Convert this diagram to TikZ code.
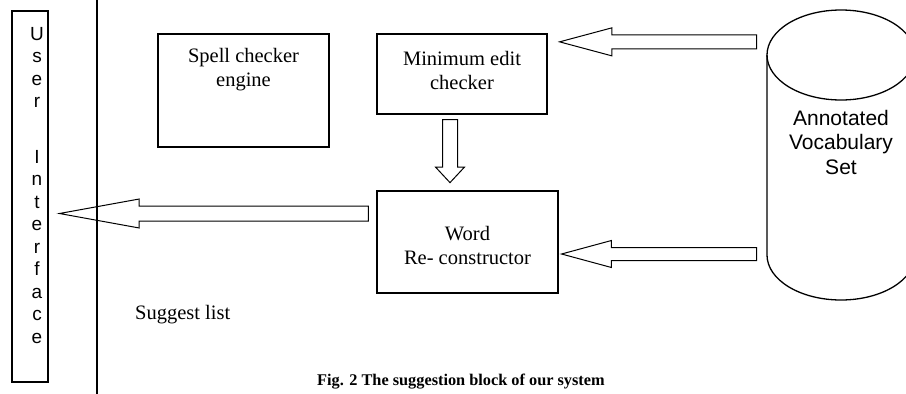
\documentclass[tikz,border=0pt]{standalone}
\usepackage{fontspec}
\setmainfont{Liberation Serif}
\newfontfamily\arialfont{Liberation Sans}
\usetikzlibrary{shapes.arrows,calc}

\begin{document}
\begin{tikzpicture}[x=1pt,y=-1pt,
  block/.style={draw, line width=1.3pt, inner sep=0pt},
  serif/.style={align=center, inner sep=0pt, font=\fontsize{20.5}{24}\selectfont},
  sans/.style={align=center, inner sep=0pt, font=\arialfont\fontsize{21}{24.5}\selectfont},
  fat/.style={draw, line width=1pt, single arrow, inner sep=7pt,
    single arrow head indent=0pt, single arrow head extend=7pt, anchor=tip}]
\useasboundingbox (0,0) rectangle (906,394);
\clip (0,0) rectangle (906,394);

% user interface column and its separator
\node[block, minimum width=36pt, minimum height=371pt] (ui) at (30,196.5) {};
\node[inner sep=0pt, anchor=north, align=center,
      font=\arialfont\fontsize{19}{22.5}\selectfont] (uitext) at (37,27)
  {U\\s\\e\\r\\[33pt]I\\n\\t\\e\\r\\f\\a\\c\\e};
\coordinate (sepTop) at (97,0);
\coordinate (sepBot) at (97,394);
\draw[line width=1.3pt] (sepTop) -- (sepBot);

% processing blocks
\node[block, minimum width=171pt, minimum height=113pt] (spell) at (243.5,90.5) {};
\node[serif] (spelltext) at ($(spell.north)+(0,36)$) {Spell checker\\engine};

\node[block, minimum width=170pt, minimum height=80pt] (mec) at (462,74) {};
\node[serif] (mectext) at ($(mec.center)+(0,-4)$) {Minimum edit\\checker};

\node[block, minimum width=181pt, minimum height=102pt] (word) at (467.5,242) {};
\node[serif] (wordtext) at ($(word.center)+(0,3.5)$) {Word\\Re- constructor};

% vocabulary store (cylinder)
\coordinate (cyl) at (841,55);
\draw[line width=1.3pt] (cyl) ellipse [x radius=74, y radius=45];
\draw[line width=1.3pt] ($(cyl)+(-74,0)$) -- ++(0,200)
  arc [start angle=180, end angle=0, x radius=74, y radius=45] -- ++(0,-200);
\node[sans] (vocab) at ($(cyl)+(0,87)$) {Annotated\\Vocabulary\\Set};

% block arrows
\node[fat, shape border rotate=180, minimum height=197pt, inner sep=6.5pt,
      single arrow tip angle=30] (a1) at ($(mec.north east)+(10,8.5)$) {};
\node[fat, shape border rotate=270, minimum height=63pt, inner sep=7pt,
      single arrow tip angle=86] (a2) at ($(word.north)+(-17.5,-7)$) {};
\node[fat, shape border rotate=180, minimum height=309pt, inner sep=7pt,
      single arrow tip angle=20.6] (a3) at ($(ui.east)+(8,17)$) {};
\node[fat, shape border rotate=180, minimum height=195pt, inner sep=6pt,
      single arrow tip angle=30.3] (a4) at ($(word.east)+(1,12)$) {};

% labels
\node[anchor=west, inner sep=0pt, font=\fontsize{20.5}{24}\selectfont] (suggest) at (135,315) {Suggest list};
\node[anchor=west, inner sep=0pt, font=\bfseries\fontsize{16.3}{19}\selectfont] (caption) at (317,382)
  {Fig. 2 The suggestion block of our system};
\end{tikzpicture}
\end{document}
